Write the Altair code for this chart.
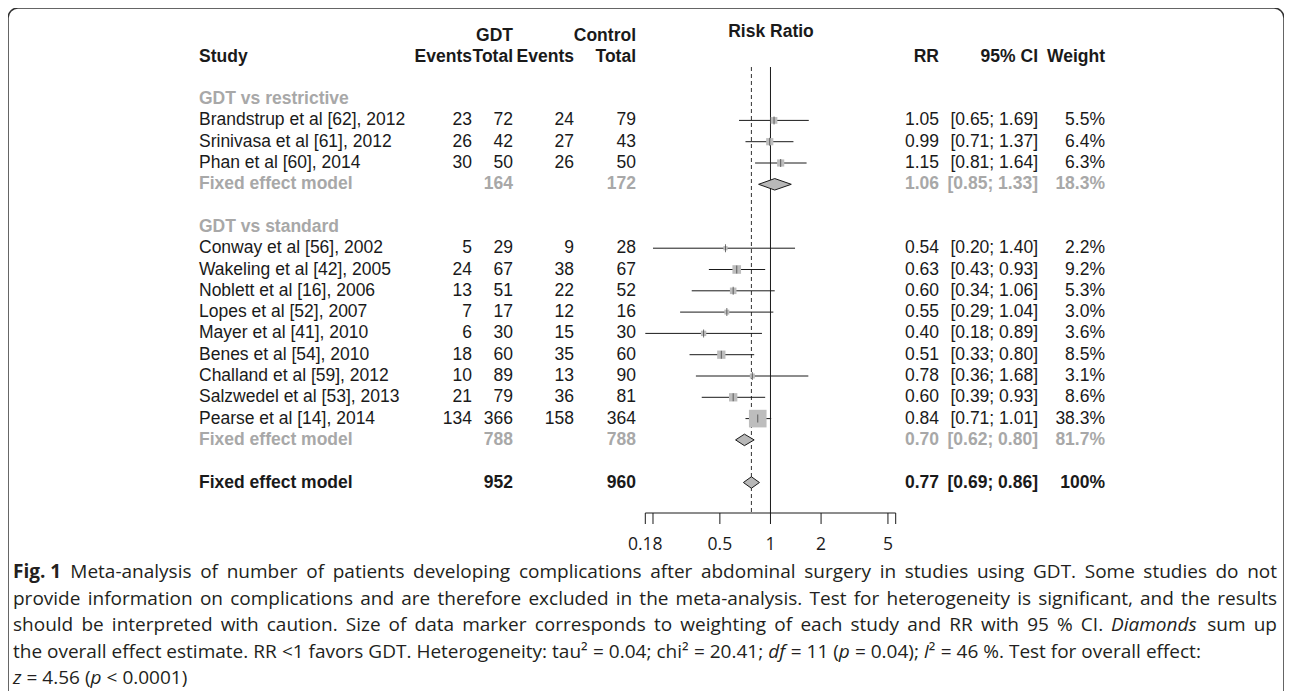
import re
import altair as alt
import pandas as pd

# ---------------- data ----------------
restrictive_studies = ["Brandstrup et al [62], 2012", "Srinivasa et al [61], 2012", "Phan et al [60], 2014"]
restrictive_gdt_events = [23, 26, 30]
restrictive_gdt_total = [72, 42, 50]
restrictive_ctrl_events = [24, 27, 26]
restrictive_ctrl_total = [79, 43, 50]
restrictive_rr = [1.05, 0.99, 1.15]
restrictive_lower = [0.65, 0.71, 0.81]
restrictive_upper = [1.69, 1.37, 1.64]
restrictive_weight = [5.5, 6.4, 6.3]

standard_studies = ["Conway et al [56], 2002", "Wakeling et al [42], 2005", "Noblett et al [16], 2006",
                    "Lopes et al [52], 2007", "Mayer et al [41], 2010", "Benes et al [54], 2010",
                    "Challand et al [59], 2012", "Salzwedel et al [53], 2013", "Pearse et al [14], 2014"]
standard_gdt_events = [5, 24, 13, 7, 6, 18, 10, 21, 134]
standard_gdt_total = [29, 67, 51, 17, 30, 60, 89, 79, 366]
standard_ctrl_events = [9, 38, 22, 12, 15, 35, 13, 36, 158]
standard_ctrl_total = [28, 67, 52, 16, 30, 60, 90, 81, 364]
standard_rr = [0.54, 0.63, 0.60, 0.55, 0.40, 0.51, 0.78, 0.60, 0.84]
standard_lower = [0.20, 0.43, 0.34, 0.29, 0.18, 0.33, 0.36, 0.39, 0.71]
standard_upper = [1.40, 0.93, 1.06, 1.04, 0.89, 0.80, 1.68, 0.93, 1.01]
standard_weight = [2.2, 9.2, 5.3, 3.0, 3.6, 8.5, 3.1, 8.6, 38.3]

subgroup_names = ["GDT vs restrictive", "GDT vs standard"]
subgroup_gdt_total = [164, 788]
subgroup_ctrl_total = [172, 788]
subgroup_rr = [1.06, 0.70]
subgroup_lower = [0.85, 0.62]
subgroup_upper = [1.33, 0.80]
subgroup_weight = [18.3, 81.7]

overall_label = "Fixed effect model"
overall_gdt_total = [952]
overall_ctrl_total = [960]
overall_rr = [0.77]
overall_lower = [0.69]
overall_upper = [0.86]
overall_weight = [100]

axis_ticks = [0.18, 0.2, 0.5, 1, 2, 5, 5.56]
axis_tick_labels = ["0.18", "", "0.5", "1", "2", "5", ""]

# **bold**, *italic*
caption_lines = [
    "**Fig.\u00a01** Meta-analysis of number of patients developing complications after abdominal surgery in studies using GDT. Some studies do not",
    "provide information on complications and are therefore excluded in the meta-analysis. Test for heterogeneity is significant, and the results",
    "should be interpreted with caution. Size of data marker corresponds to weighting of each study and RR with 95 % CI. *Diamonds* sum up",
    "the overall effect estimate. RR <1 favors GDT. Heterogeneity: tau² = 0.04; chi² = 20.41; *df* = 11 (*p* = 0.04); *I*² = 46 %. Test for overall effect:",
    "*z* = 4.56 (*p* < 0.0001)",
]
caption_justified = [True, True, True, False, False]

# ---------------- build table ----------------
rows = []
r = 2
groups = [
    (restrictive_studies, restrictive_gdt_events, restrictive_gdt_total, restrictive_ctrl_events,
     restrictive_ctrl_total, restrictive_rr, restrictive_lower, restrictive_upper, restrictive_weight),
    (standard_studies, standard_gdt_events, standard_gdt_total, standard_ctrl_events,
     standard_ctrl_total, standard_rr, standard_lower, standard_upper, standard_weight),
]
for gi, (names, ge, gt, ce, ct, rr, lo, hi, wt) in enumerate(groups):
    rows.append(dict(row=r, kind="group", label=subgroup_names[gi]))
    r += 1
    for i in range(len(names)):
        rows.append(dict(row=r, kind="study", label=names[i], ev1=str(ge[i]), tot1=str(gt[i]),
                         ev2=str(ce[i]), tot2=str(ct[i]), rr=rr[i], lo=lo[i], hi=hi[i], w=wt[i]))
        r += 1
    rows.append(dict(row=r, kind="sub", label="Fixed effect model", ev1="", tot1=str(subgroup_gdt_total[gi]),
                     ev2="", tot2=str(subgroup_ctrl_total[gi]), rr=subgroup_rr[gi], lo=subgroup_lower[gi],
                     hi=subgroup_upper[gi], w=subgroup_weight[gi]))
    r += 2
rows.append(dict(row=r, kind="overall", label=overall_label, ev1="", tot1=str(overall_gdt_total[0]),
                 ev2="", tot2=str(overall_ctrl_total[0]), rr=overall_rr[0], lo=overall_lower[0],
                 hi=overall_upper[0], w=overall_weight[0]))
df = pd.DataFrame(rows)


def fmt_row(d):
    if pd.isna(d.get("rr")):
        return d
    d["rrtxt"] = f"{d['rr']:.2f}"
    d["citxt"] = f"[{d['lo']:.2f}; {d['hi']:.2f}]"
    d["wtxt"] = "100%" if d["w"] == 100 else f"{d['w']:.1f}%"
    return d


df = df.apply(fmt_row, axis=1)
df = df.fillna("")

studies_df = df[df.kind == "study"].copy()
for c in ["rr", "lo", "hi", "w"]:
    studies_df[c] = studies_df[c].astype(float)

# diamonds (polygon vertices from the summary estimates)
DH = 0.27  # half-height of diamond, in row units
dia = []
for _, d in df[df.kind.isin(["sub", "overall"])].iterrows():
    dia.append(dict(name=str(d["row"]), x=float(d["lo"]), y=d["row"], y2=d["row"]))
    dia.append(dict(name=str(d["row"]), x=float(d["rr"]), y=d["row"] - DH, y2=d["row"] + DH))
    dia.append(dict(name=str(d["row"]), x=float(d["hi"]), y=d["row"], y2=d["row"]))
dia_df = pd.DataFrame(dia)

# ---------------- caption layout (approximate justification) ----------------
CAPFONT = "Open Sans"
CAPFS = 19
W = {' ': 532, 'a': 1139, 'b': 1255, 'c': 975, 'd': 1255, 'e': 1149, 'f': 694, 'g': 1122, 'h': 1257,
     'i': 518, 'j': 518, 'k': 1075, 'l': 518, 'm': 1905, 'n': 1257, 'o': 1237, 'p': 1255, 'q': 1255,
     'r': 836, 's': 977, 't': 723, 'u': 1257, 'v': 1026, 'w': 1593, 'x': 1073, 'y': 1028, 'z': 954,
     'A': 1296, 'B': 1292, 'C': 1284, 'D': 1491, 'E': 1124, 'F': 1026, 'G': 1485, 'H': 1511, 'I': 550,
     'M': 1849, 'R': 1280, 'S': 1104, 'T': 1128, '.': 545, ',': 500, '-': 659, ':': 545, ';': 545,
     '(': 590, ')': 590, '%': 1696, '<': 1171, '=': 1171, '²': 760, '\u00a0': 532}


def est_width(s, style):
    w = sum(W.get(ch, 1171) for ch in s) / 2048 * CAPFS
    if style == "b":
        w *= 1.07
    elif style == "i":
        w *= 0.97
    return w


LEFT, RIGHT = 5, 1269
pieces = []
for li, line in enumerate(caption_lines):
    words = line.split(" ")
    parsed = []
    for wd in words:
        segs = []
        for m in re.finditer(r"\*\*(.+?)\*\*|\*(.+?)\*|([^*]+)", wd):
            if m.group(1):
                segs.append((m.group(1), "b"))
            elif m.group(2):
                segs.append((m.group(2), "i"))
            else:
                segs.append((m.group(3), "n"))
        parsed.append(segs)
    widths = [sum(est_width(t, s) for t, s in segs) for segs in parsed]
    space = est_width(" ", "n")
    if caption_justified[li] and len(parsed) > 1:
        gap = max((RIGHT - LEFT - sum(widths)) / (len(parsed) - 1), space * 0.8)
    else:
        gap = space
    x = LEFT
    for segs, wdt in zip(parsed, widths):
        px = x
        for t, s in segs:
            pieces.append(dict(txt=t, style=s, xp=px, line=li))
            px += est_width(t, s)
        x += wdt + gap
cap_df = pd.DataFrame(pieces)
cap_df["yp"] = 564 + cap_df["line"] * 26.5

FONT = "Liberation Sans"
FS = 17.5
GRAY = "#a8a8a8"
BLACK = "#1a1a1a"

X = alt.Scale(type="log", domain=[0.18, 5.56], range=[637.3, 887.7], nice=False)
Y = alt.Scale(domain=[0, 20], range=[48.5, 474.5], nice=False, zero=False)


def xq(f):
    return alt.X(f, type="quantitative", scale=X, axis=None)


def yq(f):
    return alt.Y(f, type="quantitative", scale=Y, axis=None)


layers = []

# frame
frame = alt.Chart(pd.DataFrame({"a": [0]})).mark_rect(
    fill="transparent", stroke="#333333", strokeWidth=1.5, cornerRadius=10
).encode(x=alt.value(0), x2=alt.value(1276), y=alt.value(0), y2=alt.value(760))
layers.append(frame)

# reference lines
ref_df = pd.DataFrame({"v": [1.0]})
layers.append(alt.Chart(ref_df).mark_rule(color=BLACK, strokeWidth=1).encode(
    x=xq("v"), y=alt.value(59), y2=alt.value(505)))
ov_df = pd.DataFrame({"v": overall_rr})
layers.append(alt.Chart(ov_df).mark_rule(color="#333333", strokeWidth=1, strokeDash=[4, 3]).encode(
    x=xq("v"), y=alt.value(59), y2=alt.value(505)))

# CI lines
layers.append(alt.Chart(studies_df).mark_rule(color=BLACK, strokeWidth=1).encode(
    x=xq("lo"), x2="hi:Q", y=yq("row")))
# squares
layers.append(alt.Chart(studies_df).mark_square(color="#bdbdbd", opacity=1).encode(
    x=xq("rr"), y=yq("row"),
    size=alt.Size("w:Q", scale=alt.Scale(domain=[0, 38.3], range=[0, 310], zero=True), legend=None)))
# center ticks
layers.append(alt.Chart(studies_df).mark_tick(orient="vertical", size=8, thickness=1, color="#333333").encode(
    x=xq("rr"), y=yq("row")))
# diamonds
layers.append(alt.Chart(dia_df).mark_area(orient="vertical", fill="#b8b8b8", stroke=BLACK, strokeWidth=1,
                                          opacity=1).encode(
    x=xq("x"), y=yq("y"), y2="y2:Q", detail="name:N"))

# axis
axis_df = pd.DataFrame({"t": axis_ticks, "lab": axis_tick_labels})
layers.append(alt.Chart(pd.DataFrame({"a": [axis_ticks[0]], "b": [axis_ticks[-1]]})).mark_rule(
    color=BLACK, strokeWidth=1).encode(x=xq("a"), x2="b:Q", y=alt.value(505)))
layers.append(alt.Chart(axis_df).mark_rule(color=BLACK, strokeWidth=1).encode(
    x=xq("t"), y=alt.value(505), y2=alt.value(516)))
layers.append(alt.Chart(axis_df).mark_text(font=CAPFONT, fontSize=17.5, color=BLACK, baseline="middle",
                                           align="center").encode(
    x=xq("t"), y=alt.value(537), text="lab:N"))

# table text
col_right = {"ev1": 464, "tot1": 505, "ev2": 566, "tot2": 628, "rrtxt": 931, "citxt": 1030, "wtxt": 1097}
styles = {
    "study": dict(color=BLACK, fontWeight="normal"),
    "sub": dict(color=GRAY, fontWeight="bold"),
    "overall": dict(color=BLACK, fontWeight="bold"),
}
for kind, st in styles.items():
    sub = df[df.kind == kind]
    layers.append(alt.Chart(sub).mark_text(font=FONT, fontSize=FS, align="left", baseline="middle",
                                           **st).encode(
        x=alt.value(191), y=yq("row"), text="label:N"))
    for col, xr in col_right.items():
        layers.append(alt.Chart(sub).mark_text(font=FONT, fontSize=FS, align="right", baseline="middle",
                                               **st).encode(
            x=alt.value(xr), y=yq("row"), text=f"{col}:N"))
grp = df[df.kind == "group"]
layers.append(alt.Chart(grp).mark_text(font=FONT, fontSize=FS, align="left", baseline="middle",
                                       color=GRAY, fontWeight="bold").encode(
    x=alt.value(191), y=yq("row"), text="label:N"))

# headers
hdr = pd.DataFrame({
    "txt": ["Study", "Events", "Total", "Events", "Total", "GDT", "Control", "RR", "95% CI", "Weight"],
    "xp": [191, 464, 505, 566, 628, 505, 628, 931, 1030, 1097],
    "yp": [49, 49, 49, 49, 49, 28, 28, 49, 49, 49],
    "al": ["left", "right", "right", "right", "right", "right", "right", "right", "right", "right"],
})
for al in ["left", "right"]:
    layers.append(alt.Chart(hdr[hdr.al == al]).mark_text(font=FONT, fontSize=FS, fontWeight="bold",
                                                          color=BLACK, align=al, baseline="middle").encode(
        x=alt.X("xp:Q", scale=None, axis=None), y=alt.Y("yp:Q", scale=None, axis=None), text="txt:N"))
layers.append(alt.Chart(pd.DataFrame({"t": ["Risk Ratio"]})).mark_text(
    font=FONT, fontSize=FS, fontWeight="bold", color=BLACK, align="center", baseline="middle").encode(
    x=alt.value(763), y=alt.value(24), text="t:N"))

# caption
cap_styles = {"n": dict(fontWeight="normal", fontStyle="normal"),
              "b": dict(fontWeight="bold", fontStyle="normal"),
              "i": dict(fontWeight="normal", fontStyle="italic")}
for s, st in cap_styles.items():
    part = cap_df[cap_df["style"] == s]
    if len(part) == 0:
        continue
    layers.append(alt.Chart(part).mark_text(font=CAPFONT, fontSize=CAPFS, color="#231f20", align="left",
                                            baseline="middle", **st).encode(
        x=alt.X("xp:Q", scale=None, axis=None), y=alt.Y("yp:Q", scale=None, axis=None), text="txt:N"))

chart = alt.layer(*layers).properties(
    width=1276, height=683, padding=0, autosize=alt.AutoSizeParams(type="none")
).configure_view(stroke="transparent")

chart.save("out.html", embed_options={"renderer": "svg", "actions": False})
